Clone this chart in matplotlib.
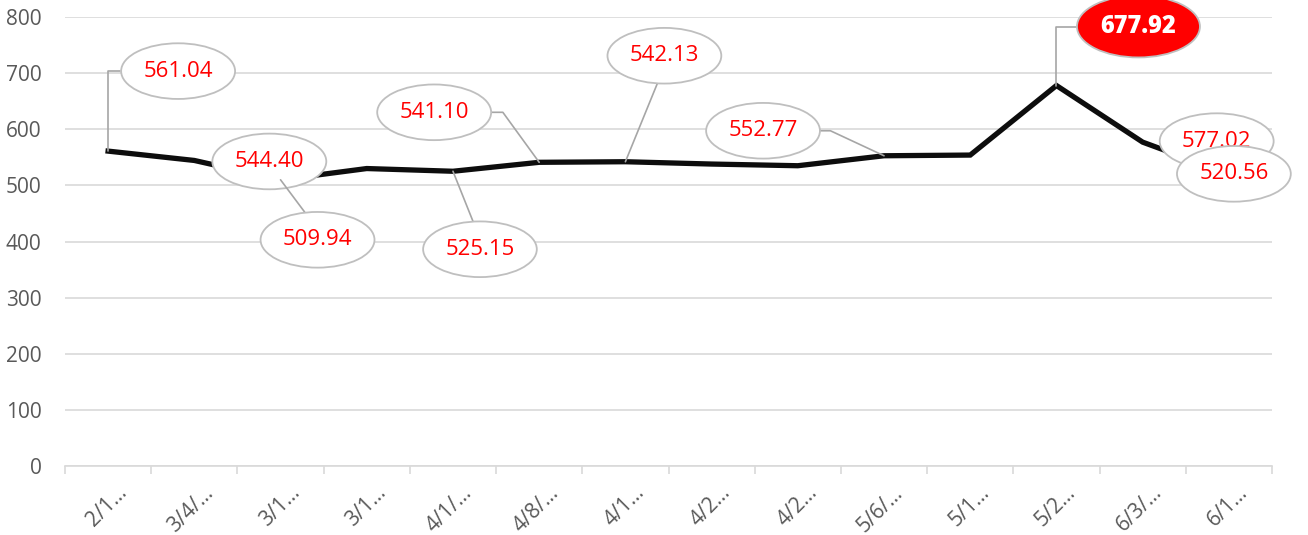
import matplotlib
matplotlib.use("Agg")
import matplotlib.pyplot as plt
from matplotlib.path import Path
from matplotlib.transforms import ScaledTranslation, Affine2D

# ---- data ----
categories = ["2/1…", "3/4/…", "3/1…", "3/1…", "4/1/…", "4/8/…", "4/1…",
              "4/2…", "4/2…", "5/6/…", "5/1…", "5/2…", "6/3/…", "6/1…"]
values = [561.04, 544.40, 509.94, 530.0, 525.15, 541.10, 542.13,
          538.0, 535.0, 552.77, 554.0, 677.92, 577.02, 520.56]
labeled_idx = [0, 1, 2, 4, 5, 6, 9, 11, 12, 13]
highlight_idx = 11

# ---- layout of callouts (offset pixels from the point) ----
label_offsets = {0: (70, 80), 1: (75, -1), 2: (37, -60), 4: (27, -78),
                 5: (-105, 50), 6: (39, 106), 9: (-121, 25), 11: (82, 59),
                 12: (74, 1), 13: (5, 0)}
leaders = {
    0: ((0, 0.5), "angle,angleA=0,angleB=90,rad=0"),
    2: ((0.5, 1), "arc3"),
    4: ((0.5, 1), "arc3"),
    5: ((1, 0.5), "angle,angleA=0,angleB=126,rad=0"),
    6: ((0.5, 0), "arc3"),
    9: ((1, 0.5), "angle,angleA=0,angleB=155,rad=0"),
    11: ((0, 0.5), "angle,angleA=0,angleB=90,rad=0"),
}

FONT = ["Open Sans", "DejaVu Sans"]
GRAY_TXT = "#595959"
GRID = "#d9d9d9"


def callout_ellipse(x0, y0, width, height, mutation_size):
    a = width / 2 + 1.0 * mutation_size
    b = height / 2 + 0.78 * mutation_size
    cx, cy = x0 + width / 2, y0 + height / 2
    return Affine2D().scale(a, b).translate(cx, cy).transform_path(Path.unit_circle())


fig = plt.figure(figsize=(13.08, 5.35), dpi=100)
ax = fig.add_axes([65 / 1308, 69 / 535, 1207 / 1308, 449 / 535])
x = list(range(len(categories)))
ax.set_xlim(-0.5, len(categories) - 0.5)
ax.set_ylim(0, 800)

ax.plot(x, values, color="#0d0d0d", lw=3.8, solid_joinstyle="miter", zorder=3)

ax.set_yticks(range(0, 801, 100))
ax.yaxis.grid(True, color=GRID, lw=1.2)
ax.set_axisbelow(True)
for s in ["top", "right", "left"]:
    ax.spines[s].set_visible(False)
ax.spines["bottom"].set_color(GRID)
ax.spines["bottom"].set_linewidth(1.2)

ax.tick_params(axis="y", length=0, pad=17, labelsize=15, labelcolor=GRAY_TXT)
for t in ax.get_yticklabels():
    t.set_family(FONT)

ax.set_xticks(x)
ax.set_xticks([i - 0.5 for i in range(len(categories) + 1)], minor=True)
ax.set_xticklabels(categories, rotation=45, ha="right", va="center",
                   rotation_mode="anchor", fontsize=15, color=GRAY_TXT, family=FONT)
ax.tick_params(axis="x", which="major", length=0, pad=17)
ax.tick_params(axis="x", which="minor", length=6, color=GRID, width=1.2)
off = ScaledTranslation(16 / 100, 0, fig.dpi_scale_trans)
for t in ax.get_xticklabels():
    t.set_transform(t.get_transform() + off)

for i in labeled_idx:
    hl = i == highlight_idx
    dx, dy = label_offsets[i]
    kw = {}
    if i in leaders:
        relpos, cs = leaders[i]
        kw["arrowprops"] = dict(arrowstyle="-", color="#a6a6a6", lw=1.2,
                                shrinkA=0, shrinkB=0, relpos=relpos,
                                connectionstyle=cs)
    ax.annotate(f"{values[i]:.2f}", xy=(i, values[i]), xytext=(dx, dy),
                textcoords="offset pixels", ha="center", va="center",
                fontsize=17 if hl else 16, family=FONT,
                color="white" if hl else "#ff0000",
                fontweight="heavy" if hl else "normal",
                bbox=dict(boxstyle=callout_ellipse,
                          fc="#ff0000" if hl else "white",
                          ec="#bfbfbf", lw=1.3),
                zorder=5, annotation_clip=False, **kw)

fig.savefig("out.png", dpi=100)
